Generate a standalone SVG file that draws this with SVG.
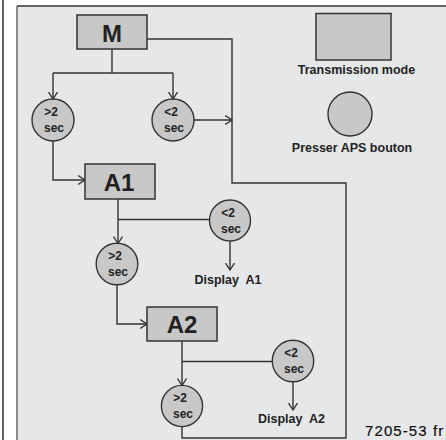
<svg xmlns="http://www.w3.org/2000/svg" width="446" height="440" viewBox="0 0 446 440">
<style>
.box{fill:#c8c8c8;stroke:#333;stroke-width:1.5}
.circ{fill:#c8c8c8;stroke:#333;stroke-width:1.4}
.big{font-family:"Liberation Sans",Arial,sans-serif;font-weight:bold;font-size:24px;fill:#222;text-anchor:middle}
.ct{font-family:"Liberation Sans",Arial,sans-serif;font-weight:bold;font-size:12px;fill:#222;text-anchor:middle}
.lb{font-family:"Liberation Sans",Arial,sans-serif;font-weight:bold;font-size:12.5px;fill:#222;text-anchor:middle}
.ln{fill:none;stroke:#333;stroke-width:1.4}
.ar{fill:none;stroke:#333;stroke-width:1.4;marker-end:url(#ah)}
</style>
<defs>
<marker id="ah" markerUnits="userSpaceOnUse" viewBox="0 0 8 10" refX="7.5" refY="5" markerWidth="8" markerHeight="10" orient="auto">
<path d="M0.5,0.5 L7.5,5 L0.5,9.5" fill="none" stroke="#333" stroke-width="1.3"/>
</marker>
</defs>
<rect x="0" y="0" width="446" height="440" fill="#fff"/>
<line x1="3" y1="0" x2="3" y2="440" stroke="#333" stroke-width="1.5"/>
<rect x="17" y="6" width="440" height="440" fill="#e6e7e8"/>
<line x1="17" y1="6" x2="17" y2="440" stroke="#666" stroke-width="1.5"/>
<line x1="17" y1="6" x2="446" y2="6" stroke="#333" stroke-width="1.5"/>
<g id="connectors">
<polyline class="ln" points="147,39 232,39 232,183 346,183 346,438 182,438 182,427"/>
<line class="ln" x1="112" y1="49" x2="112" y2="73"/>
<line class="ln" x1="53" y1="73" x2="173" y2="73"/>
<polyline class="ar" points="53,73 53,99"/>
<polyline class="ar" points="173,73 173,99"/>
<polyline class="ar" points="194,120 232,120"/>
<polyline class="ar" points="53,141 53,180 85,180"/>
<polyline class="ar" points="118,199 118,243.5"/>
<line class="ln" x1="118" y1="219.5" x2="209.5" y2="219.5"/>
<polyline class="ar" points="230,241 230,270"/>
<polyline class="ar" points="117,285 117,324 147,324"/>
<polyline class="ar" points="182,341 182,385.5"/>
<line class="ln" x1="182" y1="361.5" x2="272" y2="361.5"/>
<polyline class="ar" points="293,382 293,410"/>
</g>
<g id="node-M">
<rect class="box" x="77" y="15" width="70" height="34"/>
<text class="big" x="112" y="41.5">M</text>
</g>
<g id="node-gt2-1">
<circle class="circ" cx="53" cy="120" r="21"/>
<text class="ct" x="51" y="116">&gt;2</text>
<text class="ct" x="54" y="132">sec</text>
</g>
<g id="node-lt2-1">
<circle class="circ" cx="173" cy="120" r="21"/>
<text class="ct" x="171" y="116">&lt;2</text>
<text class="ct" x="174" y="132">sec</text>
</g>
<g id="node-A1">
<rect class="box" x="85" y="164" width="70" height="35"/>
<text class="big" x="119" y="190.5">A1</text>
</g>
<g id="node-lt2-2">
<circle class="circ" cx="230" cy="220.5" r="20.5"/>
<text class="ct" x="228" y="216.5">&lt;2</text>
<text class="ct" x="231" y="232.5">sec</text>
</g>
<g id="node-display-A1">
<text class="lb" x="228" y="283.5" xml:space="preserve">Display  A1</text>
</g>
<g id="node-gt2-2">
<circle class="circ" cx="117" cy="264" r="20.8"/>
<text class="ct" x="115" y="260">&gt;2</text>
<text class="ct" x="118" y="276">sec</text>
</g>
<g id="node-A2">
<rect class="box" x="147" y="307" width="70" height="34"/>
<text class="big" x="182" y="333">A2</text>
</g>
<g id="node-lt2-3">
<circle class="circ" cx="293" cy="361" r="20.7"/>
<text class="ct" x="291" y="357">&lt;2</text>
<text class="ct" x="294" y="373">sec</text>
</g>
<g id="node-display-A2">
<text class="lb" x="291.5" y="422.5" xml:space="preserve">Display  A2</text>
</g>
<g id="node-gt2-3">
<circle class="circ" cx="182" cy="406" r="20.6"/>
<text class="ct" x="180" y="402">&gt;2</text>
<text class="ct" x="183" y="418">sec</text>
</g>
<g id="legend-mode">
<rect class="box" x="316" y="13.5" width="75" height="46.5"/>
<text class="lb" x="356.5" y="74">Transmission mode</text>
</g>
<g id="legend-button">
<circle class="circ" cx="350" cy="114" r="22"/>
<text class="lb" x="352" y="152">Presser APS bouton</text>
</g>
<text x="365" y="436" font-family="Liberation Sans,Arial,sans-serif" font-size="15" letter-spacing="1.1" fill="#111" stroke="#111" stroke-width="0.2">7205-53 fr</text>
</svg>
